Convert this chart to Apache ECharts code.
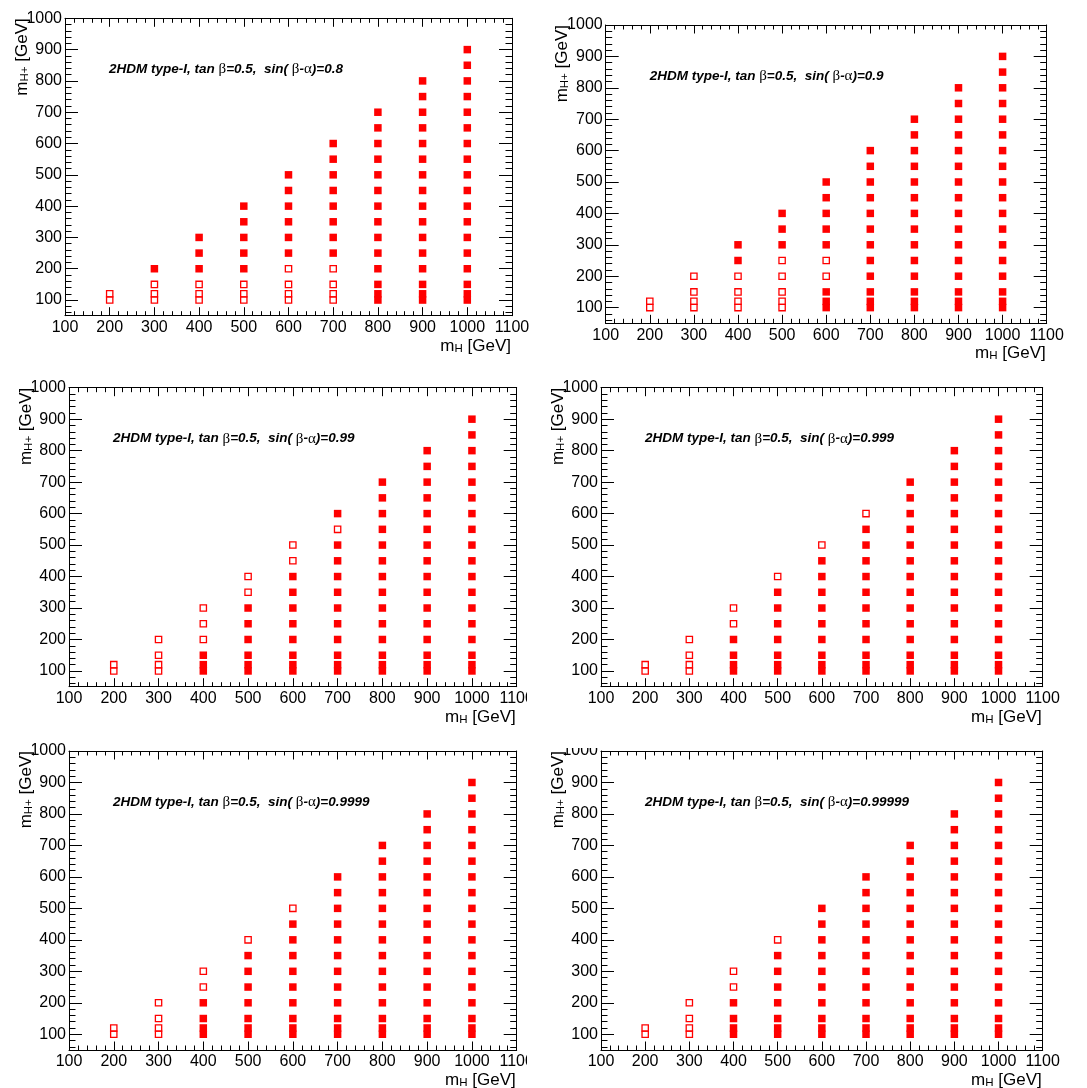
<!DOCTYPE html>
<html>
<head>
<meta charset="utf-8">
<title>2HDM type-I scan, tan beta = 0.5</title>
<script src="https://cdn.jsdelivr.net/npm/echarts@6/dist/echarts.min.js"></script>
<style>
  html, body { margin: 0; padding: 0; background: #fff; width: 1087px; height: 1088px; overflow: hidden; }
  .pad { position: absolute; overflow: hidden; background: #fff; }
</style>
</head>
<body>
<div id="pad1" class="pad" style="left:0px;top:0px;width:540px;height:360px"></div>
<div id="pad2" class="pad" style="left:540px;top:0px;width:547px;height:362px"></div>
<div id="pad3" class="pad" style="left:0px;top:362px;width:527px;height:368px"></div>
<div id="pad4" class="pad" style="left:540px;top:362px;width:547px;height:368px"></div>
<div id="pad5" class="pad" style="left:0px;top:730px;width:527px;height:358px"></div>
<div id="pad6" class="pad" style="left:540px;top:748px;width:547px;height:340px"></div>
<script>
// Neutral heavy Higgs masses of the scan (GeV)
const massH = [200, 300, 400, 500, 600, 700, 800, 900, 1000];

// Charged Higgs masses scanned for each m_H (GeV), index-aligned with massH
const massHcScan = [
  [100, 120],
  [100, 120, 150, 200],
  [100, 120, 150, 200, 250, 300],
  [100, 120, 150, 200, 250, 300, 350, 400],
  [100, 120, 150, 200, 250, 300, 350, 400, 450, 500],
  [100, 120, 150, 200, 250, 300, 350, 400, 450, 500, 550, 600],
  [100, 120, 150, 200, 250, 300, 350, 400, 450, 500, 550, 600, 650, 700],
  [100, 120, 150, 200, 250, 300, 350, 400, 450, 500, 550, 600, 650, 700, 750, 800],
  [100, 120, 150, 200, 250, 300, 350, 400, 450, 500, 550, 600, 650, 700, 750, 800, 850, 900]
];

// Points drawn as open markers for each sin(beta-alpha); all other scanned points are filled
const openSin0p8     = [[100, 120], [100, 120, 150], [100, 120, 150], [100, 120, 150], [100, 120, 150, 200], [100, 120, 150, 200], [], [], []];
const openSin0p9     = [[100, 120], [100, 120, 150, 200], [100, 120, 150, 200], [100, 120, 150, 200, 250], [200, 250], [], [], [], []];
const openSin0p99    = [[100, 120], [100, 120, 150, 200], [200, 250, 300], [350, 400], [450, 500], [550], [], [], []];
const openSin0p999   = [[100, 120], [100, 120, 150, 200], [250, 300], [400], [500], [600], [], [], []];
const openSin0p9999  = [[100, 120], [100, 120, 150, 200], [250, 300], [400], [500], [], [], [], []];
const openSin0p99999 = [[100, 120], [100, 120, 150, 200], [250, 300], [400], [], [], [], [], []];

const sinLabels = ['0.8', '0.9', '0.99', '0.999', '0.9999', '0.99999'];
const openSets = [openSin0p8, openSin0p9, openSin0p99, openSin0p999, openSin0p9999, openSin0p99999];

// Axis ranges
const xRange = [100, 1100];
const xStep = 100;
const yRange = [50, 1000];

// Frame of each pad: [left, top, width, height] of the plotting area inside the pad
const padIds = ['pad1', 'pad2', 'pad3', 'pad4', 'pad5', 'pad6'];
const padFrames = [
  [65, 18.3, 447, 297.4],
  [65.7, 25, 441, 298.3],
  [69, 25.7, 447.7, 299],
  [61, 25.7, 441.7, 299],
  [69, 21, 447.7, 299],
  [61, 3, 441.7, 299]
];

const FONT = '"Liberation Sans", Arial, Helvetica, sans-serif';
const RED = '#ff0000';
const plainNumber = v => String(Math.round(v));

function splitPoints(openSet) {
  const filled = [];
  const open = [];
  massH.forEach((mh, i) => {
    massHcScan[i].forEach(mhc => {
      if (openSet[i].indexOf(mhc) >= 0) open.push([mh, mhc]);
      else filled.push([mh, mhc]);
    });
  });
  return { filled, open };
}

function xAxisDef(position, showLabel) {
  return {
    type: 'value', gridIndex: 0, position: position,
    min: xRange[0], max: xRange[1], interval: xStep,
    axisLine: { show: true, onZero: false, lineStyle: { color: '#000', width: 1 } },
    axisTick: { show: true, inside: true, length: 8.5, lineStyle: { color: '#000', width: 1 } },
    minorTick: { show: true, splitNumber: 5, length: 4.5, lineStyle: { color: '#000', width: 1 } },
    splitLine: { show: false },
    axisLabel: { show: showLabel, margin: 4, color: '#000', fontSize: 16, fontFamily: FONT, formatter: plainNumber }
  };
}

function yAxisDef(position, showLabel) {
  return {
    type: 'value', gridIndex: 0, position: position,
    min: yRange[0], max: yRange[1], splitNumber: 10,
    axisLine: { show: true, onZero: false, lineStyle: { color: '#000', width: 1 } },
    axisTick: { show: true, inside: true, length: 13, lineStyle: { color: '#000', width: 1 } },
    minorTick: { show: true, splitNumber: 5, length: 6.5, lineStyle: { color: '#000', width: 1 } },
    splitLine: { show: false },
    axisLabel: { show: showLabel, margin: 3, color: '#000', fontSize: 16, fontFamily: FONT, showMinLabel: false, formatter: plainNumber }
  };
}

const titleRich = {
  m: { fontFamily: FONT, fontSize: 17, lineHeight: 17, verticalAlign: 'top', fill: '#000', color: '#000' },
  s: { fontFamily: FONT, fontSize: 11.5, lineHeight: 11.5, verticalAlign: 'bottom', padding: [8, 0, 0, 0], fill: '#000', color: '#000' }
};

const noteRich = {
  t: { fontFamily: FONT, fontSize: 13.5, fontWeight: 'bold', fontStyle: 'italic', color: '#000', fill: '#000' },
  g: { fontFamily: '"Liberation Serif", "DejaVu Serif", serif', fontSize: 15, color: '#000', fill: '#000' }
};

padIds.forEach((id, k) => {
  const f = padFrames[k];
  const pts = splitPoints(openSets[k]);
  const chart = echarts.init(document.getElementById(id), null, { renderer: 'canvas' });
  const option = {
    animation: false,
    backgroundColor: '#fff',
    grid: [{ left: f[0], top: f[1], width: f[2], height: f[3], containLabel: false, outerBoundsMode: 'none' }],
    xAxis: [xAxisDef('bottom', true), xAxisDef('top', false)],
    yAxis: [yAxisDef('left', true), yAxisDef('right', false)],
    series: [
      {
        type: 'scatter', xAxisIndex: 0, yAxisIndex: 0, silent: true,
        symbol: 'rect', symbolSize: 7.5,
        itemStyle: { color: RED, opacity: 1 },
        data: pts.filled
      },
      {
        type: 'scatter', xAxisIndex: 0, yAxisIndex: 0, silent: true,
        symbol: 'rect', symbolSize: 6.3,
        itemStyle: { color: 'rgba(255,255,255,0)', borderColor: RED, borderWidth: 1.3, opacity: 1 },
        data: pts.open
      }
    ],
    graphic: [
      {
        type: 'text', x: f[0] + 44, y: f[1] + 51, silent: true,
        style: {
          text: '{t|2HDM type-I, tan }{g|\u03b2}{t|=0.5,  sin( }{g|\u03b2}{t|-}{g|\u03b1}{t|)=' + sinLabels[k] + '}',
          rich: noteRich, align: 'left', verticalAlign: 'middle'
        }
      },
      {
        type: 'text', x: f[0] - 43, y: f[1], rotation: Math.PI / 2, silent: true,
        style: { text: '{m|m}{s|H+}{m| [GeV]}', rich: titleRich, align: 'right', verticalAlign: 'middle' }
      },
      {
        type: 'text', x: f[0] + f[2] - 1, y: f[1] + f[3] + 22, silent: true,
        style: { text: '{m|m}{s|H}{m| [GeV]}', rich: titleRich, align: 'right', verticalAlign: 'top' }
      }
    ]
  };
  chart.setOption(option);
});
</script>
</body>
</html>
